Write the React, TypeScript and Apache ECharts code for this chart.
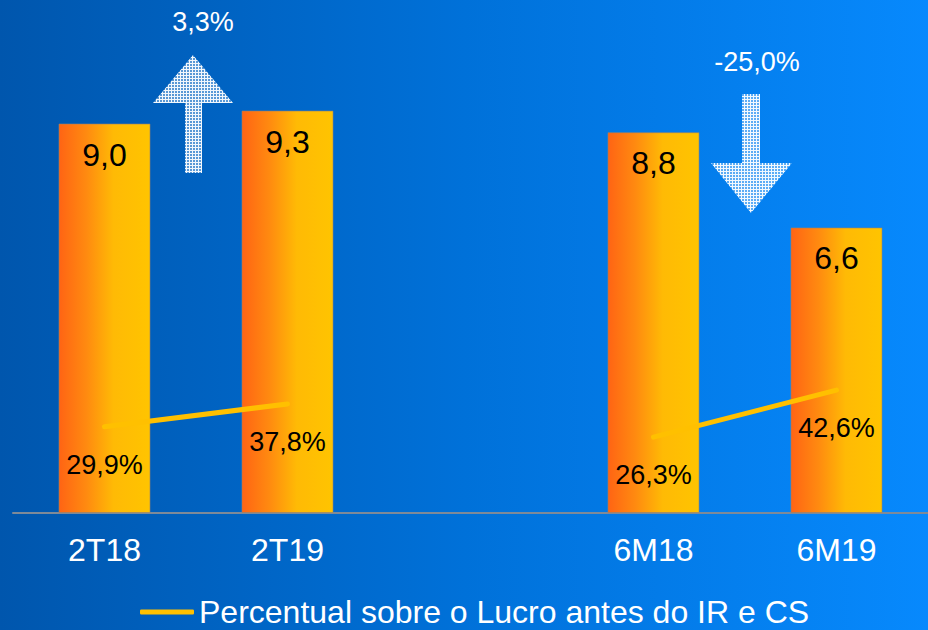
import React, { useEffect, useRef } from "react";
import * as echarts from "echarts";

const categories = ["2T18", "2T19", "", "6M18", "6M19"];
const barValues: (number | null)[] = [9.0, 9.3, null, 8.8, 6.6];
const pctValues: (number | null)[] = [29.9, 37.8, null, 26.3, 42.6];
const changeLabels = ["3,3%", "-25,0%"];
const legendName = "Percentual sobre o Lucro antes do IR e CS";

const FONT = "'Liberation Sans', Arial, sans-serif";

function makePattern(): string {
  const c = document.createElement("canvas");
  c.width = 3;
  c.height = 3;
  const ctx = c.getContext("2d");
  if (ctx) {
    ctx.fillStyle = "rgba(255,255,255,0.95)";
    ctx.fillRect(0, 0, 3, 3);
    ctx.clearRect(1, 1, 2, 2);
    ctx.fillStyle = "rgba(255,255,255,0.35)";
    ctx.fillRect(1, 1, 2, 2);
  }
  return c.toDataURL();
}

const fmt = (v: number) => v.toFixed(1).replace(".", ",");

export default function App() {
  const ref = useRef<HTMLDivElement>(null);
  useEffect(() => {
    if (!ref.current) return;
    const chart = echarts.init(ref.current, undefined, { renderer: "svg" });
    const pattern = makePattern();
    const arrowFill: any = {
      image: pattern,
      repeat: "repeat",
      imageWidth: 3,
      imageHeight: 3,
    };
    chart.setOption({
      animation: false,
      backgroundColor: new echarts.graphic.LinearGradient(0, 0, 1, 0, [
        { offset: 0, color: "#0056AD" },
        { offset: 0.5, color: "#0071D9" },
        { offset: 1, color: "#0789FD" },
      ]),
      textStyle: { fontFamily: FONT },
      grid: { left: 13, right: -3, top: 37, bottom: 117, containLabel: false },
      legend: {
        data: [legendName],
        left: 140,
        top: 595,
        padding: 0,
        icon: "roundRect",
        itemWidth: 54,
        itemHeight: 5,
        textStyle: { color: "#FFFFFF", fontSize: 32, lineHeight: 34, fontFamily: FONT },
      },
      xAxis: {
        type: "category",
        data: categories,
        axisTick: { show: false },
        axisLine: { lineStyle: { color: "#7E8A98", width: 2 } },
        axisLabel: { color: "#FFFFFF", fontSize: 32, fontFamily: FONT, margin: 21 },
      },
      yAxis: [
        { type: "value", min: 0, max: 11, show: false, splitLine: { show: false } },
        { type: "value", min: 0, max: 165, show: false, splitLine: { show: false } },
      ],
      series: [
        {
          name: "Lucro",
          type: "bar",
          barWidth: 92,
          data: barValues,
          itemStyle: {
            color: new echarts.graphic.LinearGradient(0, 0, 1, 0, [
              { offset: 0, color: "#FF6414" },
              { offset: 0.3, color: "#FF8A10" },
              { offset: 0.6, color: "#FFBA05" },
              { offset: 1, color: "#FFC400" },
            ]),
            borderColor: "rgba(150,130,110,0.6)",
            borderWidth: 1,
          },
          label: {
            show: true,
            position: "insideTop",
            distance: 15,
            color: "#000000",
            fontSize: 32,
            fontFamily: FONT,
            formatter: (p: any) => fmt(p.value),
          },
        },
        {
          name: legendName,
          type: "line",
          yAxisIndex: 1,
          data: pctValues,
          connectNulls: false,
          symbol: "circle",
          symbolSize: 1,
          itemStyle: { color: "#FFC000" },
          lineStyle: { color: "#FFC000", width: 5, cap: "round" },
          label: {
            show: true,
            position: "bottom",
            distance: 24,
            color: "#000000",
            fontSize: 27,
            fontFamily: FONT,
            formatter: (p: any) => fmt(p.value) + "%",
          },
          z: 5,
        },
      ],
      graphic: [
        {
          type: "polygon",
          shape: {
            points: [
              [193, 55],
              [233, 103],
              [202, 103],
              [202, 173],
              [185, 173],
              [185, 103],
              [153, 103],
            ],
          },
          style: { fill: arrowFill },
          z: 10,
        },
        {
          type: "polygon",
          shape: {
            points: [
              [742, 94],
              [760, 94],
              [760, 163],
              [792, 163],
              [751, 213],
              [711, 163],
              [742, 163],
            ],
          },
          style: { fill: arrowFill },
          z: 10,
        },
        {
          type: "text",
          x: 203,
          y: 22,
          style: {
            text: changeLabels[0],
            fill: "#FFFFFF",
            fontSize: 27,
            fontFamily: FONT,
            textAlign: "center",
            textVerticalAlign: "middle",
          },
          z: 10,
        },
        {
          type: "text",
          x: 757,
          y: 62,
          style: {
            text: changeLabels[1],
            fill: "#FFFFFF",
            fontSize: 27,
            fontFamily: FONT,
            textAlign: "center",
            textVerticalAlign: "middle",
          },
          z: 10,
        },
      ],
    });
    return () => chart.dispose();
  }, []);
  return (
    <div
      ref={ref}
      style={{ position: "fixed", left: 0, top: 0, width: 928, height: 630 }}
    />
  );
}
